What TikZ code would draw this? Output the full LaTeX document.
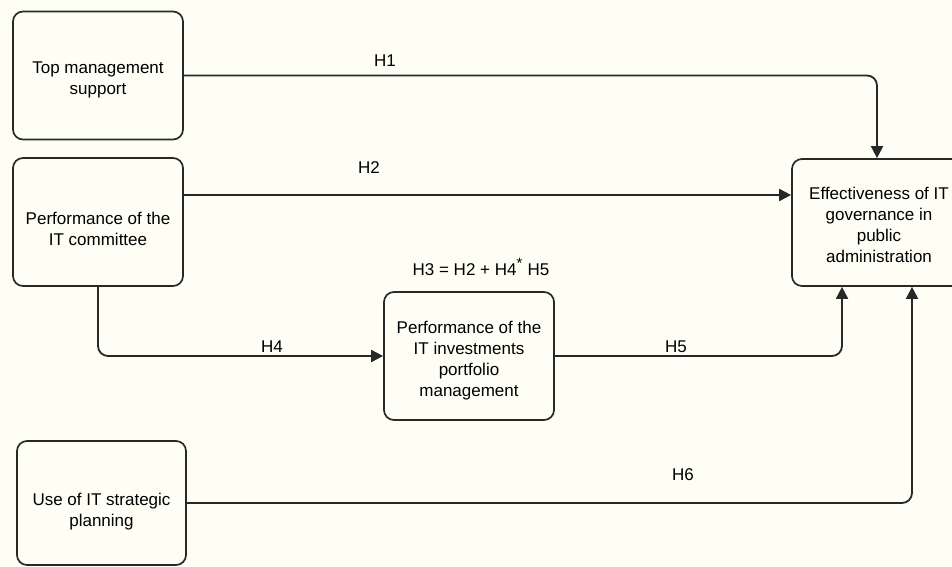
\documentclass[tikz,border=0pt]{standalone}
\usepackage{fontspec}
\setmainfont{Liberation Sans}
\usetikzlibrary{arrows.meta}
\definecolor{bgc}{RGB}{254,254,245}
\definecolor{ink}{RGB}{40,40,40}
\tikzset{
  box/.style={draw=ink, line width=1.7pt, rounded corners=10pt, fill=bgc, inner sep=0pt},
  boxtext/.style={align=center, font=\fontsize{17}{21}\selectfont, text=black, inner sep=0pt},
  conn/.style={draw=ink, line width=1.8pt, rounded corners=10pt,
    -{Triangle[length=12pt,width=12pt]}},
  lbl/.style={font=\fontsize{17}{21}\selectfont, text=black, inner sep=0pt}
}
\begin{document}
\begin{tikzpicture}[x=1pt,y=-1pt]
\fill[bgc] (0,0) rectangle (952,566);
\useasboundingbox (0,0) rectangle (952,566);
\begin{scope}
\clip (0,0) rectangle (952,566);
\node[box, minimum width=170pt, minimum height=128pt] (b1) at (98,75.5) {};
\node[box, minimum width=170pt, minimum height=128pt] (b2) at (98,222) {};
\node[box, minimum width=169pt, minimum height=124pt] (b3) at (101.5,503) {};
\node[box, minimum width=170pt, minimum height=128pt] (b4) at (469,356) {};
\node[box, minimum width=174pt, minimum height=127pt] (b5) at (879,222.5) {};
\end{scope}
\node[boxtext] (t1) at ([yshift=-4pt]b1.center) {Top management\\support};
\node[boxtext] (t2) at ([yshift=-7pt]b2.center) {Performance of the\\IT committee};
\node[boxtext] (t3) at ([yshift=-9pt]b3.center) {Use of IT strategic\\planning};
\node[boxtext] (t4) at ([yshift=-5pt]b4.center) {Performance of the\\IT investments\\portfolio\\management};
\node[boxtext] (t5) at ([yshift=-2pt]b5.center) {Effectiveness of IT\\governance in\\public\\administration};
\draw[conn] (b1.east) -| ([xshift=-2pt]b5.north);
\draw[conn] ([yshift=27pt]b2.east) -- ([yshift=27.5pt]b5.west);
\draw[conn] (b2.south) |- (b4.west);
\draw[conn] (b4.east) -| ([xshift=-37pt]b5.south);
\draw[conn] (b3.east) -| ([xshift=33pt]b5.south);
\node[lbl] (l1) at (385,61) {H1};
\node[lbl] (l2) at (369,168) {H2};
\node[lbl] (l3) at (481,267) {H3 = H2 + H4\textsuperscript{\fontsize{15}{15}\selectfont *} H5};
\node[lbl] (l4) at (272,347) {H4};
\node[lbl] (l5) at (676,347) {H5};
\node[lbl] (l6) at (683,475) {H6};
\end{tikzpicture}
\end{document}
